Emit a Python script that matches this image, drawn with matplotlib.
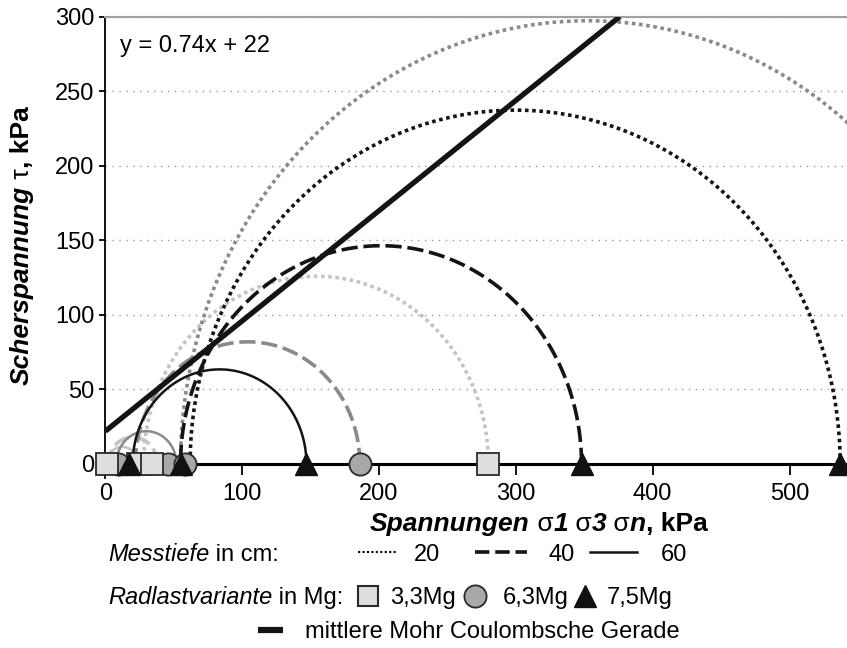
import numpy as np
import matplotlib.pyplot as plt
from matplotlib.lines import Line2D

plt.rcParams['font.family'] = ['Liberation Sans', 'DejaVu Sans']

# Mohr circles, sigma3 / sigma1 in kPa, order of depth: 20, 40, 60 cm
depths = ['20', '40', '60']
loads = ['3,3Mg', '6,3Mg', '7,5Mg']
sig3_33 = [28, 2, 1]
sig1_33 = [280, 38, 24]
sig3_63 = [55, 22, 8]
sig1_63 = [650, 186, 52]
sig3_75 = [62, 55, 20]
sig1_75 = [537, 348, 147]

# points on the axis
square_x = [1, 24, 34, 280]
circle_x = [9, 46, 58, 186]
triangle_x = [17, 55, 147, 348, 537]

# mean Mohr-Coulomb line
slope = 0.74
intercept = 22
line_x = [0, 376]

W, H = 847, 648
fig = plt.figure(figsize=(W / 100, H / 100), dpi=100)
ax = fig.add_axes([105.3 / W, 1 - 478 / H, (W - 105.3) / W, 461 / H])

dot = (0, (1, 1))
dash = (0, (4.5, 1.6))
styles = [dot, dash, '-']
widths = [2.6, 2.6, 1.8]
colors = {'3,3Mg': '#c4c4c4', '6,3Mg': '#8a8a8a', '7,5Mg': '#141414'}
circle_sets = [('3,3Mg', sig3_33, sig1_33), ('6,3Mg', sig3_63, sig1_63), ('7,5Mg', sig3_75, sig1_75)]

theta = np.linspace(0, np.pi, 400)
for load, s3s, s1s in circle_sets:
    for i in range(len(depths)):
        c = (s1s[i] + s3s[i]) / 2
        r = (s1s[i] - s3s[i]) / 2
        ax.plot(c + r * np.cos(theta), r * np.sin(theta), color=colors[load],
                linestyle=styles[i], lw=widths[i], zorder=3)

lx = np.array(line_x, dtype=float)
ax.plot(lx, slope * lx + intercept, color='#141414', lw=3.8, solid_capstyle='butt', zorder=4)

ax.plot(circle_x, [0] * len(circle_x), 'o', ms=16, mfc='#a8a8a8', mec='#2a2a2a', mew=1.3,
        ls='none', zorder=5, clip_on=False)
ax.plot(square_x, [0] * len(square_x), 's', ms=15.5, mfc='#dedede', mec='#2a2a2a', mew=1.3,
        ls='none', zorder=6, clip_on=False)
ax.plot(triangle_x, [0] * len(triangle_x), '^', ms=16, mfc='#111111', mec='#111111', mew=1,
        ls='none', zorder=7, clip_on=False)

ax.set_xlim(0, 542)
ax.set_ylim(-9.4, 300)
ax.set_xticks(range(0, 501, 100))
ax.set_yticks(range(0, 301, 50))
ax.spines['bottom'].set_position(('data', 0))
ax.spines['bottom'].set_linewidth(2.2)
ax.spines['bottom'].set_zorder(4)
ax.spines['left'].set_linewidth(1.3)
ax.spines['right'].set_visible(False)
ax.spines['top'].set_color('#a0a0a0')
ax.spines['top'].set_linewidth(1.5)
ax.tick_params(axis='x', length=8, width=1.3, pad=6, labelsize=17)
ax.tick_params(axis='y', length=4, width=1.3, pad=4, labelsize=17)
ax.yaxis.grid(True, linestyle=(0, (1, 4)), color='#9a9a9a', lw=1)
ax.set_axisbelow(True)

ax.text(0.02, 0.924, 'y = 0.74x + 22', transform=ax.transAxes, fontsize=17, va='baseline')

renderer = fig.canvas.get_renderer()


def put_runs(px, py, runs, rotation=0):
    # px, py in pixels from top-left, text pieces placed one after another
    for s, kw in runs:
        t = fig.text(px / W, 1 - py / H, s, rotation=rotation, rotation_mode='anchor',
                     ha='left', va='baseline', **kw)
        bb = t.get_window_extent(renderer)
        if rotation == 0:
            px += bb.width
        else:
            py -= bb.height


bi = dict(fontsize=19, fontweight='bold', fontstyle='italic')
b = dict(fontsize=19, fontweight='bold')
g = dict(fontsize=19)
put_runs(370, 531, [('Spannungen', bi), (' σ', g), ('1', bi), (' σ', g), ('3', bi),
                    (' σ', g), ('n', bi), (', kPa', b)])
put_runs(29, 385, [('Scherspannung', bi), (' τ', g), (', kPa', b)], rotation=90)

it = dict(fontsize=17, fontstyle='italic')
rg = dict(fontsize=17)
put_runs(108, 561, [('Messtiefe', it), (' in cm:', rg)])
put_runs(108, 604, [('Radlastvariante', it), (' in Mg:', rg)])
put_runs(305, 638, [('mittlere Mohr Coulombsche Gerade', rg)])

ly1 = 1 - 552 / H
fig.add_artist(Line2D([358 / W, 398 / W], [ly1, ly1], color='#141414', lw=1.6, ls=(0, (1, 1))))
fig.add_artist(Line2D([475 / W, 527 / W], [ly1, ly1], color='#141414', lw=2.6, ls=(0, (4, 1.6))))
fig.add_artist(Line2D([590 / W, 637 / W], [ly1, ly1], color='#141414', lw=1.8))
for txt, px in zip(depths, [414, 548, 661]):
    put_runs(px, 561, [(txt, rg)])

ly2 = 1 - 596 / H
fig.add_artist(Line2D([368 / W], [ly2], marker='s', ms=15, mfc='#dedede', mec='#2a2a2a', mew=1.5, ls='none'))
fig.add_artist(Line2D([475 / W], [ly2], marker='o', ms=16, mfc='#a8a8a8', mec='#2a2a2a', mew=1.3, ls='none'))
fig.add_artist(Line2D([585 / W], [ly2], marker='^', ms=16, mfc='#111111', mec='#111111', ls='none'))
for txt, px in zip(loads, [390, 503, 607]):
    put_runs(px, 604, [(txt, rg)])

ly3 = 1 - 630 / H
fig.add_artist(Line2D([258 / W, 283 / W], [ly3, ly3], color='#141414', lw=4.5, solid_capstyle='butt'))

fig.savefig('out.png', dpi=100)
